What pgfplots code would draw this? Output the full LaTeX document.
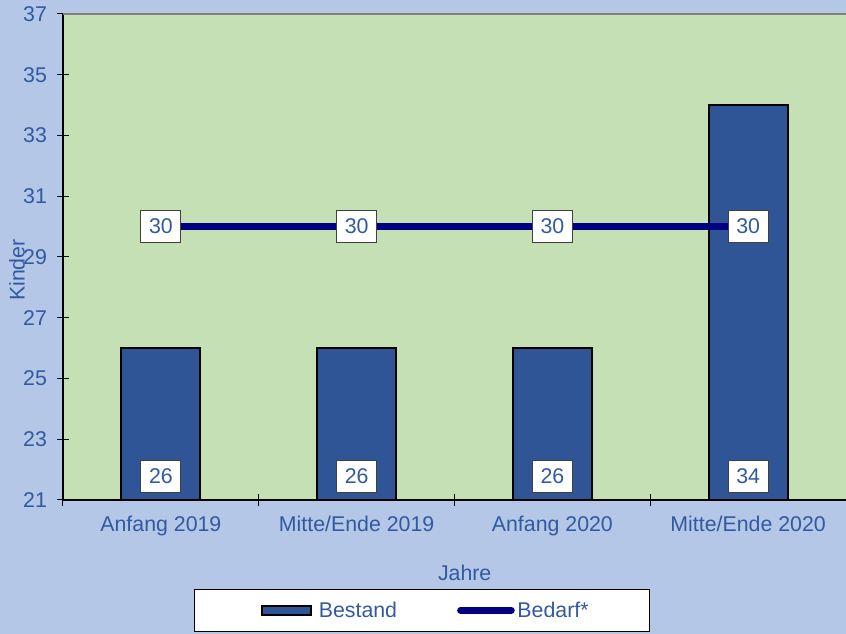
\documentclass[border=0pt]{standalone}
\usepackage{pgfplots}
\pgfplotsset{compat=1.18}
\usepackage{fontspec}
\setmainfont{Liberation Sans}
\definecolor{bgblue}{RGB}{180,199,231}
\definecolor{plotgreen}{RGB}{197,224,180}
\definecolor{barblue}{RGB}{47,85,151}
\definecolor{linenavy}{RGB}{0,0,128}
\definecolor{txtblue}{RGB}{50,90,160}
\definecolor{boxgray}{RGB}{64,64,64}
\newcommand{\chartfont}{\fontsize{16}{19}\selectfont}
\tikzset{valbox/.style={fill=white, draw=boxgray, line width=0.75pt, text=txtblue,
  font=\chartfont, minimum width=30pt, minimum height=24.5pt, inner sep=0pt, anchor=center}}

\begin{document}
\begin{tikzpicture}
\fill[bgblue] (-47.25pt,-100.5pt) rectangle (587.25pt,375pt);
\begin{axis}[
 name=ax,
 scale only axis, width=587.25pt, height=364.5pt,
 xmin=-0.5, xmax=3.5, ymin=21, ymax=37,
 ytick={21,23,...,37},
 xtick={-0.5,0.5,1.5,2.5,3.5},
 x tick label as interval,
 xticklabels={Anfang 2019, Mitte/Ende 2019, Anfang 2020, Mitte/Ende 2020},
 xtick pos=bottom, ytick pos=left,
 tick align=center, major tick length=9pt,
 tick style={black, line width=0.75pt},
 axis line style={draw=none},
 axis background/.style={fill=plotgreen},
 /pgf/number format/assume math mode=true,
 tick label style={font=\chartfont, text=txtblue},
 xticklabel style={yshift=-4pt},
 yticklabel style={xshift=-4pt},
 label style={font=\chartfont, text=txtblue},
 xlabel={Jahre},
 xlabel style={at={(axis description cs:0.513,-0.150)}, anchor=center},
 ylabel={Kinder},
 ylabel style={at={(axis description cs:-0.0587,0.473)}, anchor=center},
 legend columns=2,
 legend style={at={(axis description cs:0.1673,-0.227)}, anchor=west,
   draw=black, fill=white, line width=0.75pt, font=\chartfont, text=txtblue,
   inner xsep=43.75pt, inner ysep=7pt,
   /tikz/every even column/.append style={column sep=43pt}},
 legend cell align=left,
]
\addplot[ybar, bar width=0.403, fill=barblue, draw=black, line width=1.5pt,
  legend image code/.code={\path (0pt,0pt);
    \draw[fill=barblue, draw=black, line width=1.5pt] (6pt,-3.5pt) rectangle (43pt,3.5pt);}]
  coordinates {(0,26) (1,26) (2,26) (3,34)};
\addlegendentry{\hspace{3pt}Bestand}
\addplot[linenavy, line width=5.25pt, mark=none,
  nodes near coords, point meta=y,
  every node near coord/.style={valbox},
  legend image code/.code={\draw[linenavy, line width=5.25pt, line cap=round] (2pt,0pt) -- (40pt,0pt);}]
  coordinates {(0,30) (1,30) (2,30) (3,30)};
\addlegendentry{Bedarf*}
\addplot[draw=none, mark=none, forget plot,
  nodes near coords, point meta=explicit,
  every node near coord/.style={valbox}]
  coordinates {(0,21.77) [26] (1,21.77) [26] (2,21.77) [26] (3,21.77) [34]};
\end{axis}
\draw[black, line width=1.5pt] (ax.north west) -- (ax.south west) -- (ax.south east);
\draw[gray, line width=1.5pt] (ax.north west) -- (ax.north east);
\pgfresetboundingbox
\path[use as bounding box] (-47.25pt,-100.5pt) rectangle (587.25pt,375pt);
\end{tikzpicture}
\end{document}
